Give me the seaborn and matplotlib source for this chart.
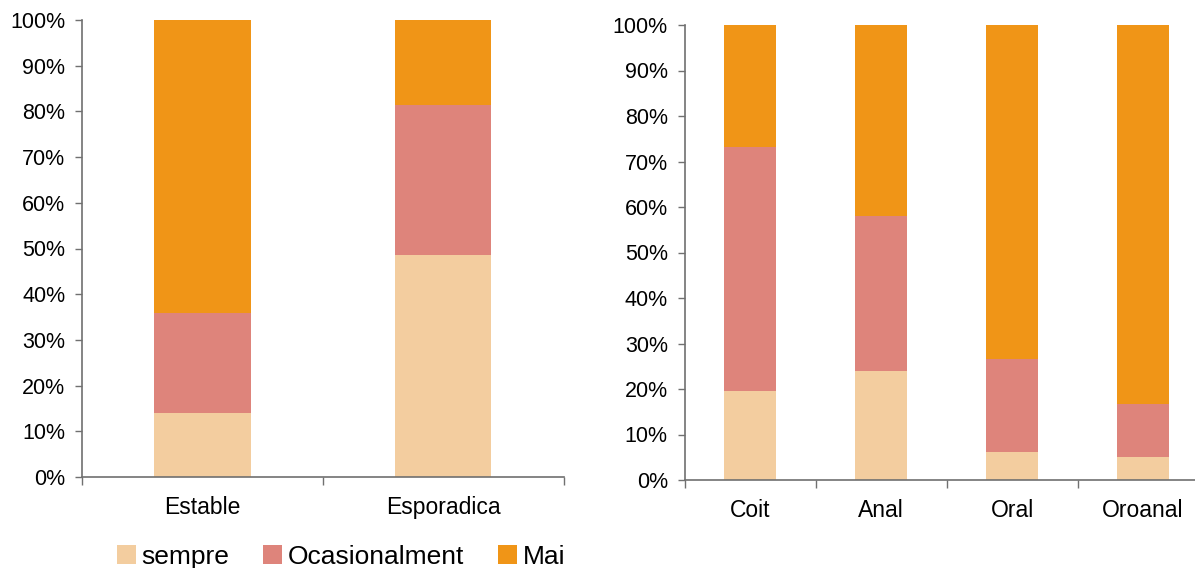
import matplotlib
matplotlib.use("Agg")
import matplotlib.pyplot as plt
from matplotlib.patches import Patch
from matplotlib.ticker import FixedLocator, PercentFormatter
import seaborn as sns
import numpy as np
import pandas as pd

# ---- data ----
left_categories = ["Estable", "Esporadica"]
left_sempre = [14.0, 48.5]
left_ocasional = [21.8, 33.0]
left_mai = [64.2, 18.5]

right_categories = ["Coit", "Anal", "Oral", "Oroanal"]
right_sempre = [19.5, 24.0, 6.2, 5.0]
right_ocasional = [53.7, 34.0, 20.5, 11.8]
right_mai = [26.8, 42.0, 73.3, 83.2]

series_names = ["sempre", "Ocasionalment", "Mai"]
colors = ["#F3CD9F", "#DE847B", "#F09517"]

sns.set_style("white")
plt.rcParams["font.family"] = ["Liberation Sans", "DejaVu Sans"]
plt.rcParams["text.color"] = "black"

W, H = 1195, 568
fig = plt.figure(figsize=(W / 100, H / 100), dpi=100)

spine_color = "#707070"


def draw(ax, cats, s, o, m):
    df = pd.DataFrame({"cat": cats, "sempre": s, "ocas": o, "mai": m})
    df["c1"] = df["sempre"]
    df["c2"] = df["sempre"] + df["ocas"]
    df["c3"] = df["c2"] + df["mai"]
    for col, colr in zip(["c3", "c2", "c1"], colors[::-1]):
        sns.barplot(data=df, x="cat", y=col, order=cats, color=colr,
                    width=0.4, ax=ax, linewidth=0, saturation=1)
    n = len(cats)
    ax.set_xlim(-0.5, n - 0.5)
    ax.set_ylim(0, 100)
    ax.set_xlabel("")
    ax.set_ylabel("")
    ax.yaxis.set_major_locator(FixedLocator(np.arange(0, 101, 10)))
    ax.yaxis.set_major_formatter(PercentFormatter(decimals=0))
    ax.xaxis.set_minor_locator(FixedLocator(np.arange(-0.5, n, 1.0)))
    ax.tick_params(axis="x", which="major", length=0, labelsize=16.5, pad=14,
                   labelcolor="black")
    ax.tick_params(axis="x", which="minor", length=6, width=1, color=spine_color,
                   direction="out", bottom=True)
    ax.tick_params(axis="y", which="major", length=5, width=1, color=spine_color,
                   direction="out", left=True, labelsize=15.5, pad=7,
                   labelcolor="black")
    for sp in ["top", "right"]:
        ax.spines[sp].set_visible(False)
    for sp in ["left", "bottom"]:
        ax.spines[sp].set_color(spine_color)
        ax.spines[sp].set_linewidth(1.2)
    ax.set_facecolor("none")


# left panel: x from 82 to 563.5, y 0% at 477, 100% at 20
axL = fig.add_axes([82 / W, (H - 477) / H, 481.5 / W, 457 / H])
draw(axL, left_categories, left_sempre, left_ocasional, left_mai)

# right panel: x from 684.5 to 1208.5, y 0% at 480, 100% at 25
axR = fig.add_axes([684.5 / W, (H - 480) / H, 524 / W, 455 / H])
draw(axR, right_categories, right_sempre, right_ocasional, right_mai)

handles = [Patch(facecolor=c, edgecolor="none", label=n) for c, n in zip(colors, series_names)]
fig.legend(handles=handles, loc="center", bbox_to_anchor=(341 / W, 11 / H),
           ncol=3, frameon=False, fontsize=19, handlelength=0.72, handleheight=0.72,
           handletextpad=0.2, columnspacing=1.3, borderpad=0, borderaxespad=0,
           labelcolor="black")

fig.savefig("out.png", dpi=100)
